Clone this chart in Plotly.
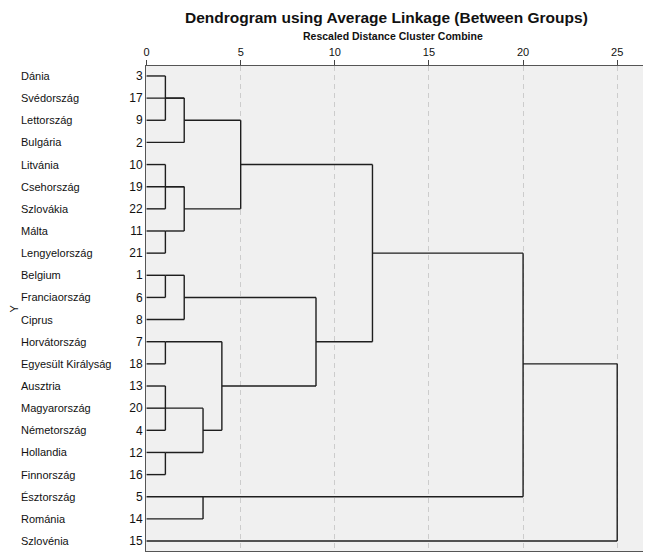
import math
import plotly.graph_objects as go

# ---------------- data ----------------
countries = ["Dánia", "Svédország", "Lettország", "Bulgária", "Litvánia", "Csehország",
             "Szlovákia", "Málta", "Lengyelország", "Belgium", "Franciaország", "Ciprus",
             "Horvátország", "Egyesült Királyság", "Ausztria", "Magyarország", "Németország",
             "Hollandia", "Finnország", "Észtország", "Románia", "Szlovénia"]
case_numbers = [3, 17, 9, 2, 10, 19, 22, 11, 21, 1, 6, 8, 7, 18, 13, 20, 4, 12, 16, 5, 14, 15]

# merges: (child_a, child_b, rescaled distance); leaves are 0..21, merges numbered from 22
merge_a = [0, 22, 23, 4, 25, 7, 26, 24, 9, 30, 12, 14, 33, 17, 34, 32, 31, 29, 19, 39, 41]
merge_b = [2, 1, 3, 6, 5, 8, 27, 28, 10, 11, 13, 16, 15, 18, 35, 36, 37, 38, 20, 40, 21]
merge_h = [1, 2, 2, 1, 2, 1, 2, 5, 1, 2, 1, 1, 1, 1, 3, 4, 9, 12, 3, 20, 25]

x_ticks = [0, 5, 10, 15, 20, 25]

# ---------------- build segments ----------------
n = len(countries)
pos = {i: i for i in range(n)}
hgt = {i: 0 for i in range(n)}
xs, ys = [], []
for k, (a, b, h) in enumerate(zip(merge_a, merge_b, merge_h)):
    mid = n + k
    for c in (a, b):
        xs += [hgt[c], h, None]
        ys += [pos[c], pos[c], None]
    lo, hi = min(pos[a], pos[b]), max(pos[a], pos[b])
    xs += [h, h, None]
    ys += [lo, hi, None]
    pos[mid] = math.floor((lo + hi) / 2)
    hgt[mid] = h

fig = go.Figure()
fig.add_trace(go.Scatter(x=xs, y=ys, mode="lines",
                         line=dict(color="#1e1e1e", width=1.4),
                         hoverinfo="skip", showlegend=False))

# page body has an 8px margin, so the figure is offset by 8px
OFF = 8
W, H = 651 - OFF, 558 - OFF
L, R, T, B = 146 - OFF, 8, 66 - OFF, 7
pw, ph = W - L - R, H - T - B

fig.update_layout(
    width=W, height=H,
    margin=dict(l=L, r=R, t=T, b=B),
    paper_bgcolor="white", plot_bgcolor="#f0f0f0",
    font=dict(family="Liberation Sans, Arial, sans-serif", color="#111"),
    xaxis=dict(side="top", range=[-0.03, 26.37], tickvals=x_ticks,
               ticks="outside", ticklen=5, tickcolor="#444",
               tickfont=dict(size=11, color="#111"),
               showgrid=True, gridcolor="#cccccc", griddash="5px,4px", gridwidth=1,
               zeroline=False, showline=True, mirror=True, linecolor="#555", linewidth=1),
    yaxis=dict(range=[21.45, -0.45], tickvals=list(range(n)),
               ticktext=[str(v) for v in case_numbers],
               tickfont=dict(size=12, color="#111"), ticks="",
               showgrid=False, zeroline=False,
               showline=True, mirror=True, linecolor="#555", linewidth=1),
)

annotations = []
for i, name in enumerate(countries):
    annotations.append(dict(text=name, x=(19 - OFF - L) / pw, xref="paper", y=i, yref="y",
                            xanchor="left", yanchor="middle", showarrow=False,
                            font=dict(size=11, color="#111")))
annotations.append(dict(text="Y", x=(5 - L) / pw, xref="paper", y=0.5, yref="paper",
                        textangle=-90, xanchor="center", yanchor="middle", showarrow=False,
                        font=dict(size=11, color="#111")))
annotations.append(dict(text="<b>Dendrogram using Average Linkage (Between Groups)</b>",
                        x=(386 - OFF - L) / pw, xref="paper", y=(H - B - (18 - OFF)) / ph,
                        yref="paper", xanchor="center", yanchor="middle", showarrow=False,
                        font=dict(size=15.5, color="#111")))
annotations.append(dict(text="<b>Rescaled Distance Cluster Combine</b>",
                        x=(393 - OFF - L) / pw, xref="paper", y=(H - B - (36 - OFF)) / ph,
                        yref="paper", xanchor="center", yanchor="middle", showarrow=False,
                        font=dict(size=10.5, color="#111")))
fig.update_layout(annotations=annotations)

fig.write_html("out.html")
